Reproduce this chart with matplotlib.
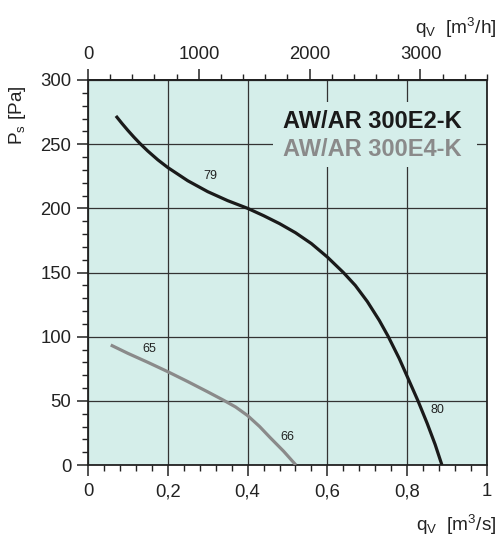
import matplotlib
matplotlib.use("Agg")
import matplotlib.pyplot as plt
from matplotlib.patches import Rectangle
from matplotlib.ticker import MultipleLocator

plt.rcParams['font.family'] = ['Liberation Sans', 'DejaVu Sans']
plt.rcParams['mathtext.fontset'] = 'custom'
plt.rcParams['mathtext.rm'] = 'Liberation Sans'
plt.rcParams['mathtext.it'] = 'Liberation Sans'

# Data
e2_q = [0.07, 0.085, 0.10, 0.115, 0.13, 0.15, 0.175, 0.20, 0.25, 0.30, 0.35, 0.40,
        0.44, 0.48, 0.52, 0.56, 0.60, 0.64, 0.67, 0.70, 0.73, 0.752, 0.78, 0.80,
        0.827, 0.85, 0.87, 0.887]
e2_p = [272, 266.2, 260.7, 255.5, 250.6, 244.6, 237.8, 231.8, 221.5, 213, 206, 200,
        194.3, 188.1, 181, 172.5, 162, 150, 139.9, 127.4, 112.7, 100.4, 83, 69,
        50, 32.5, 16, 0]
e4_q = [0.057, 0.10, 0.15, 0.20, 0.25, 0.30, 0.339, 0.37, 0.40, 0.43, 0.456, 0.49, 0.521]
e4_p = [93.5, 87, 80, 72.7, 65, 57, 50.6, 45.2, 38.5, 30, 21.5, 10.8, 0]
curve_labels = [("79", 0.306, 225), ("80", 0.875, 43), ("65", 0.153, 90), ("66", 0.50, 22)]
x_ticks = [0, 0.2, 0.4, 0.6, 0.8, 1.0]
x_ticklabels = ["0", "0,2", "0,4", "0,6", "0,8", "1"]
y_ticks = [0, 50, 100, 150, 200, 250, 300]
top_ticks = [0, 1000, 2000, 3000]
names = ["AW/AR 300E2-K", "AW/AR 300E4-K"]

bg = '#d5eeea'
c_e2 = '#1a1a1a'
c_e4 = '#8a8a8a'
tc = '#222222'

fig = plt.figure(figsize=(4.99, 5.45), dpi=100)
ax = fig.add_axes([88/499, 1-465/545, 399/499, 385/545])
ax.set_facecolor(bg)
ax.set_xlim(0, 1)
ax.set_ylim(0, 300)
ax.set_axisbelow(True)

ax.set_xticks(x_ticks)
ax.set_xticklabels(x_ticklabels)
ax.set_yticks(y_ticks)
ax.xaxis.set_minor_locator(MultipleLocator(0.04))
ax.yaxis.set_minor_locator(MultipleLocator(10))
ax.tick_params(axis='both', which='major', length=8, width=1.1, direction='out',
               labelsize=13.3, pad=4, color=tc, labelcolor=tc)
ax.tick_params(axis='x', which='major', pad=5)
ax.tick_params(axis='both', which='minor', length=4, width=1.0, direction='out',
               color=tc)
ax.grid(True, which='major', color='#333333', linewidth=0.9)
for s in ax.spines.values():
    s.set_linewidth(1.3)
    s.set_color(tc)

sec = ax.secondary_xaxis('top', functions=(lambda x: x*3600, lambda x: x/3600))
sec.set_xticks(top_ticks)
sec.xaxis.set_minor_locator(MultipleLocator(200))
sec.tick_params(axis='x', which='major', length=8, width=1.1, labelsize=13.3, pad=4,
                color=tc, labelcolor=tc)
sec.tick_params(axis='x', which='minor', length=4, width=1.0, color=tc)
sec.spines['top'].set_linewidth(1.3)

# cover box behind series names
ax.add_patch(Rectangle((0.464, 232), 0.511, 51, facecolor=bg, edgecolor='none', zorder=1))

ax.plot(e2_q, e2_p, color=c_e2, linewidth=2.3, zorder=3, solid_capstyle='butt',
        solid_joinstyle='round')
ax.plot(e4_q, e4_p, color=c_e4, linewidth=2.3, zorder=3, solid_capstyle='butt',
        solid_joinstyle='round')

for t, x, y in curve_labels:
    ax.text(x, y, t, fontsize=9, ha='center', va='center', color=tc, zorder=4)

ax.text(0.712, 268, names[0], fontsize=17, fontweight='bold', color=c_e2,
        ha='center', va='center', zorder=4)
ax.text(0.712, 245.5, names[1], fontsize=17, fontweight='bold', color=c_e4,
        ha='center', va='center', zorder=4)

fig.text(497/499, 1-531/545, r'q$_\mathrm{V}$  [m$^3$/s]', fontsize=13.7, ha='right',
         va='baseline', color=tc)
fig.text(497/499, 1-34/545, r'q$_\mathrm{V}$  [m$^3$/h]', fontsize=13.7, ha='right',
         va='baseline', color=tc)
fig.text(18/499, 1-115/545, r'P$_\mathrm{s}$ [Pa]', fontsize=13.7, rotation=90,
         ha='center', va='center', color=tc)

fig.savefig('out.png', dpi=100, facecolor='white')
